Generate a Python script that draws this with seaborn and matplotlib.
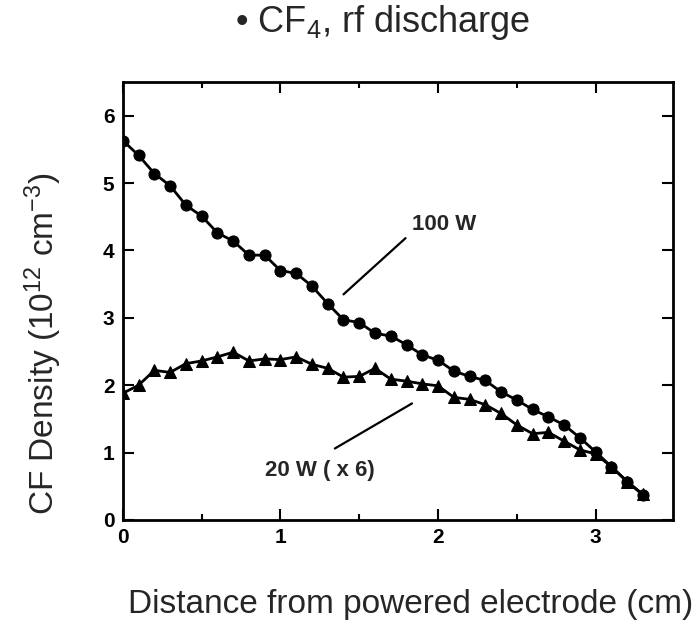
import matplotlib
matplotlib.use("Agg")
import matplotlib.pyplot as plt
from matplotlib.ticker import MultipleLocator
import seaborn as sns
import pandas as pd

# Distance from powered electrode (cm)
distance = [0.0, 0.1, 0.2, 0.3, 0.4, 0.5, 0.6, 0.7, 0.8, 0.9,
            1.0, 1.1, 1.2, 1.3, 1.4, 1.5, 1.6, 1.7, 1.8, 1.9,
            2.0, 2.1, 2.2, 2.3, 2.4, 2.5, 2.6, 2.7, 2.8, 2.9,
            3.0, 3.1, 3.2, 3.3]
# CF density, 100 W
density_100w = [5.63, 5.41, 5.14, 4.96, 4.67, 4.51, 4.26, 4.14, 3.93, 3.93,
                3.70, 3.66, 3.47, 3.21, 2.97, 2.93, 2.77, 2.73, 2.60, 2.45,
                2.37, 2.21, 2.13, 2.07, 1.90, 1.78, 1.64, 1.53, 1.41, 1.22,
                1.01, 0.79, 0.57, 0.37]
# CF density, 20 W (x 6)
density_20w = [1.88, 2.00, 2.22, 2.19, 2.32, 2.36, 2.42, 2.49, 2.36, 2.39,
               2.38, 2.42, 2.31, 2.25, 2.12, 2.13, 2.25, 2.09, 2.06, 2.02,
               1.99, 1.82, 1.79, 1.71, 1.58, 1.41, 1.28, 1.30, 1.17, 1.04,
               0.98, 0.79, 0.57, 0.38]

x_ticks = [0, 1, 2, 3]
y_ticks = [0, 1, 2, 3, 4, 5, 6]

sns.set_style("ticks")
plt.rcParams['font.family'] = ['Liberation Sans', 'DejaVu Sans']
plt.rcParams['mathtext.fontset'] = 'custom'
plt.rcParams['mathtext.rm'] = 'Liberation Sans'
plt.rcParams['mathtext.it'] = 'Liberation Sans:italic'
plt.rcParams['mathtext.bf'] = 'Liberation Sans:bold'

df100 = pd.DataFrame({"distance": distance, "density": density_100w})
df20 = pd.DataFrame({"distance": distance, "density": density_20w})

fig = plt.figure(figsize=(6.98, 6.24), dpi=100)
ax = fig.add_axes([0.176, 0.1667, 0.788, 0.702])

sns.lineplot(data=df100, x="distance", y="density", ax=ax, color="black",
             linewidth=2, marker="o", markersize=8, markeredgecolor="black",
             sort=False, errorbar=None)
sns.lineplot(data=df20, x="distance", y="density", ax=ax, color="black",
             linewidth=2, marker="^", markersize=9, markeredgecolor="black",
             sort=False, errorbar=None)

ax.set_xlim(0, 3.49)
ax.set_ylim(0, 6.5)
ax.set_xticks(x_ticks)
ax.set_yticks(y_ticks)
ax.xaxis.set_minor_locator(MultipleLocator(0.5))
ax.tick_params(axis="both", which="both", direction="in", top=True, right=True,
               width=1.5, colors="black")
ax.tick_params(axis="both", which="major", length=8, labelsize=15, pad=6)
ax.tick_params(axis="both", which="minor", length=4)
for lbl in ax.get_xticklabels() + ax.get_yticklabels():
    lbl.set_fontweight("bold")
for s in ax.spines.values():
    s.set_linewidth(2)
    s.set_color("black")

ax.set_xlabel("")
ax.set_ylabel("")

# annotations
ax.annotate("", xy=(1.387, 3.32), xytext=(1.807, 4.21),
            arrowprops=dict(arrowstyle="-", color="black", lw=1.6))
ax.text(2.04, 4.39, "100 W", fontsize=16, fontweight="bold", ha="center", va="center")
ax.annotate("", xy=(1.33, 1.04), xytext=(1.85, 1.75),
            arrowprops=dict(arrowstyle="-", color="black", lw=1.6))
ax.text(1.25, 0.73, "20 W ( x 6)", fontsize=16, fontweight="bold", ha="center", va="center")

fig.text(0.548, 0.949, "• CF$_4$, rf discharge", fontsize=26, ha="center", va="baseline")
fig.text(0.589, 0.017, "Distance from powered electrode (cm)", fontsize=24,
         ha="center", va="baseline")
fig.text(0.062, 0.449, "CF Density (10$^{12}$ cm$^{-3}$)", fontsize=24, ha="center",
         va="center", rotation=90)

fig.savefig("out.png", dpi=100)
